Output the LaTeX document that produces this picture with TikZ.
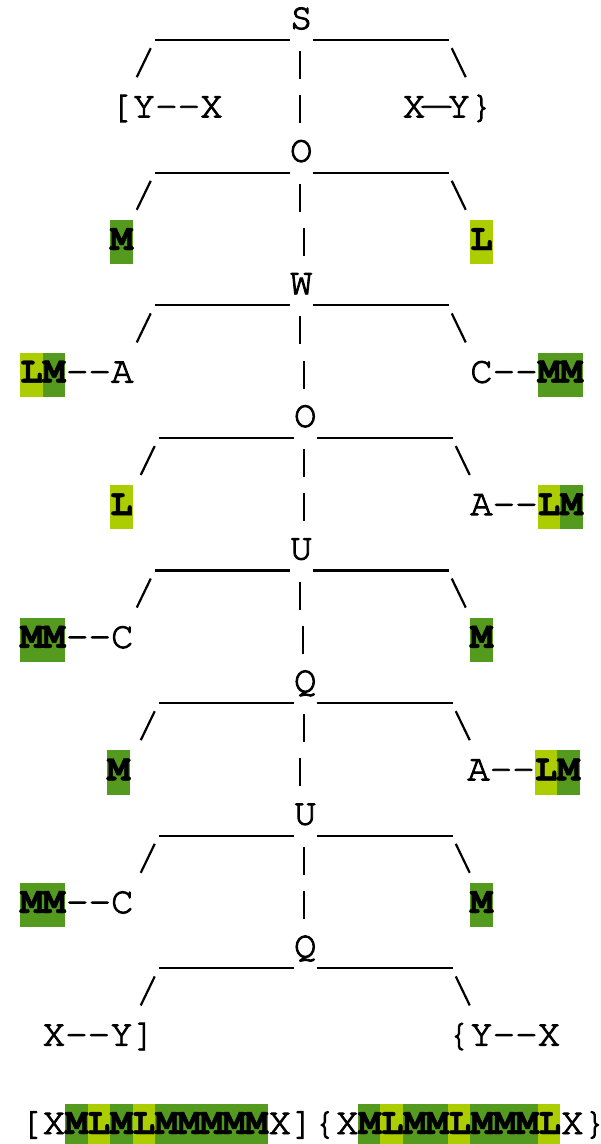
\documentclass[tikz,border=0pt]{standalone}
\usepackage{fontspec}
\newfontfamily\cur{texgyrecursor}[Extension=.otf,UprightFont=*-regular,BoldFont=*-bold,UprightFeatures={FakeBold=2.5},BoldFeatures={FakeBold=1.2}]
\definecolor{dk}{RGB}{84,154,30}
\definecolor{lt}{RGB}{172,206,0}
\tikzset{
  tx/.style={inner sep=0pt, font=\cur\fontsize{37.5}{40}\selectfont},
  art/.style={line width=2.2pt}
}
% highlight: cols #1..#2, row #3, colour #4
\newcommand{\hlr}[4]{\fill[#4] ({20+22.5*#1},{-1.1+44.2*#3}) rectangle ({42.5+22.5*#2},{43.1+44.2*#3});}
% text node: name, column, row, text
\newcommand{\tnode}[4]{\node[tx,anchor=base west] (#1) at ({20+22.5*#2},{29+44.2*#3}) {#4};}
\newcommand{\dd}{-\kern0pt-}
\newcommand{\longdash}{\makebox[22.5pt]{\scalebox{1.7}[1]{—}}}
\begin{document}
\begin{tikzpicture}[x=1pt,y=-1pt]
\useasboundingbox (0,0) rectangle (601,1144);
% ---- highlights
\hlr{4}{4}{5}{dk} \hlr{20}{20}{5}{lt}
\hlr{0}{0}{8}{lt} \hlr{1}{1}{8}{dk} \hlr{23}{24}{8}{dk}
\hlr{4}{4}{11}{lt} \hlr{23}{23}{11}{lt} \hlr{24}{24}{11}{dk}
\hlr{0}{1}{14}{dk} \hlr{20}{20}{14}{dk}
\hlr{3.87}{3.87}{17}{dk} \hlr{22.87}{22.87}{17}{lt} \hlr{23.87}{23.87}{17}{dk}
\hlr{0}{1}{20}{dk} \hlr{20}{20}{20}{dk}
\hlr{2}{2}{25}{dk} \hlr{3}{3}{25}{lt} \hlr{4}{4}{25}{dk} \hlr{5}{5}{25}{lt} \hlr{6}{10}{25}{dk}
\hlr{15}{15}{25}{dk} \hlr{16}{16}{25}{lt} \hlr{17}{18}{25}{dk} \hlr{19}{19}{25}{lt}
\hlr{20}{22}{25}{dk} \hlr{23}{23}{25}{lt}
% ---- spine levels: centre letter, bars, slashes
\foreach \k/\ch/\dx in {0/S/0, 1/O/0, 2/W/0, 3/O/4, 4/U/0, 5/Q/4, 6/U/4, 7/Q/4} {
  \pgfmathsetmacro\yc{21+44.2*3*\k}
  \pgfmathsetmacro\ys{21+44.2*(3*\k+1)}
  \node[tx,anchor=base] (c\k) at ({301.25+\dx},{\yc+8}) {\ch};
  \coordinate (bl\k) at ({155+\dx},{\yc+19});
  \coordinate (bm\k) at ({290+\dx},{\yc+19});
  \coordinate (bn\k) at ({312.5+\dx},{\yc+19});
  \coordinate (br\k) at ({449+\dx},{\yc+19});
  \coordinate (sl\k) at ({150.75+\dx},{\ys-17});
  \coordinate (sm\k) at ({136.75+\dx},{\ys+12});
  \coordinate (sr\k) at ({451.75+\dx},{\ys-17});
  \coordinate (sn\k) at ({465.75+\dx},{\ys+12});
  \draw[art] (bl\k) -- (bm\k);
  \draw[art] (bn\k) -- (br\k);
  \draw[art] (sl\k) -- (sm\k);
  \draw[art] (sr\k) -- (sn\k);
}
% ---- vertical spine segments
\foreach \r/\dx in {1/0, 2/0, 4/0, 5/4, 7/0, 8/4, 10/4, 11/4, 13/0, 14/3, 16/4, 17/0, 19/4, 20/4} {
  \coordinate (vt\r) at ({299.75+\dx},{21+44.2*\r-14});
  \coordinate (vb\r) at ({299.75+\dx},{21+44.2*\r+14});
  \draw[art] (vt\r) -- (vb\r);
}
% ---- texts
\tnode{t2l}{4}{2}{[Y\dd X}
\tnode{t2r}{17}{2}{X\longdash Y\}}
\tnode{t5l}{4}{5}{\textbf{M}}
\tnode{t5r}{20}{5}{\textbf{L}}
\tnode{t8l}{0}{8}{\textbf{LM}\dd A}
\tnode{t8r}{20}{8}{C\dd\textbf{MM}}
\tnode{t11l}{4}{11}{\textbf{L}}
\tnode{t11r}{20}{11}{A\dd\textbf{LM}}
\tnode{t14l}{0}{14}{\textbf{MM}\dd C}
\tnode{t14r}{20}{14}{\textbf{M}}
\tnode{t17l}{3.87}{17}{\textbf{M}}
\tnode{t17r}{19.87}{17}{A\dd\textbf{LM}}
\tnode{t20l}{0}{20}{\textbf{MM}\dd C}
\tnode{t20r}{20}{20}{\textbf{M}}
\tnode{t23l}{1}{23}{X\dd Y]}
\tnode{t23r}{19}{23}{\{Y\dd X}
\tnode{t25}{0}{25}{[X\textbf{MLMLMMMMM}X]\{X\textbf{MLMMLMMML}X\}}
\end{tikzpicture}
\end{document}
